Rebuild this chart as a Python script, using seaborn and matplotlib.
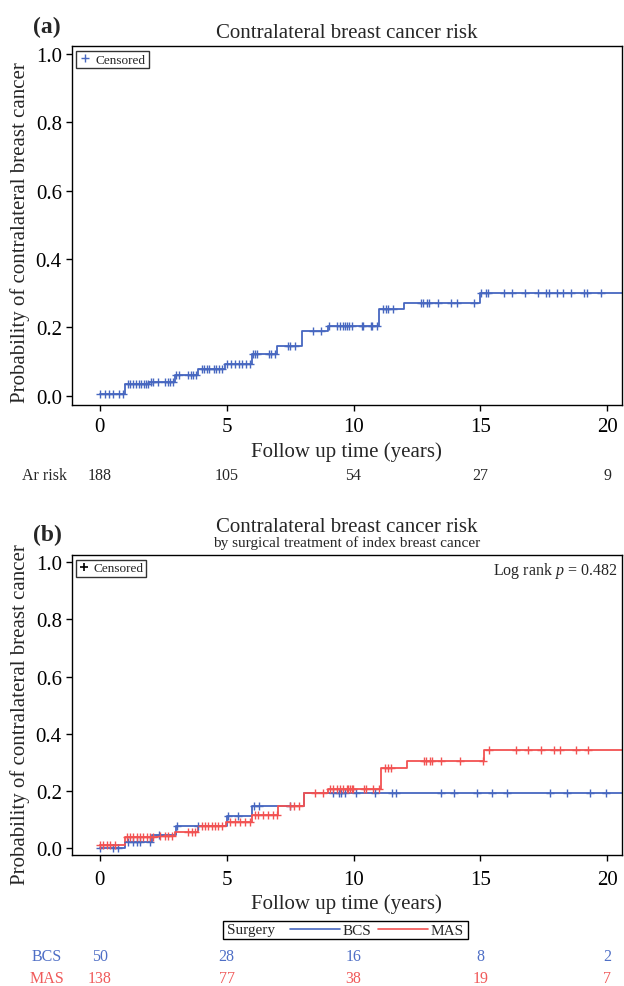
import numpy as np
import pandas as pd
import matplotlib
matplotlib.use("Agg")
import matplotlib.pyplot as plt
import matplotlib.transforms as mtransforms
from matplotlib.lines import Line2D
from matplotlib.patches import Rectangle
import seaborn as sns

# ---------------- data ----------------
# Panel (a): overall cumulative incidence (step times and levels)
A_TIMES = [0, 1.0, 1.95, 2.97, 3.89, 4.94, 5.99, 7.0, 7.98, 8.98, 11.0, 11.99, 14.98, 20.9]
A_RISK = [0.005, 0.033, 0.039, 0.061, 0.077, 0.094, 0.122, 0.145, 0.190, 0.203, 0.254, 0.272, 0.300, 0.300]
A_CENSORED = [0.03, 0.22, 0.35, 0.53, 0.75, 0.92, 1.1, 1.2, 1.33, 1.44, 1.53, 1.64, 1.73, 1.83, 1.92,
              2.03, 2.12, 2.31, 2.58, 2.68, 2.77, 2.88, 3.01, 3.13, 3.49, 3.58, 3.68, 3.79,
              4.02, 4.12, 4.21, 4.32, 4.5, 4.6, 4.71, 4.82, 5.02, 5.19, 5.35, 5.49, 5.62, 5.78, 5.91,
              6.04, 6.11, 6.2, 6.67, 6.76, 6.89, 7.41, 7.51, 7.71, 8.4, 8.73, 9.05, 9.34, 9.47, 9.59,
              9.66, 9.75, 9.83, 9.93, 10.32, 10.38, 10.68, 10.74, 10.94, 11.15, 11.27, 11.37, 11.57,
              12.66, 12.75, 12.91, 12.99, 13.32, 13.84, 14.06, 14.75, 15.01, 15.21, 15.31, 15.93,
              16.25, 16.75, 17.25, 17.57, 17.71, 18.0, 18.24, 18.57, 19.09, 19.18, 19.75]

# Panel (b): by surgery
BCS_TIMES = [0, 1.0, 2.05, 3.0, 5.0, 6.0, 8.05, 20.9]
BCS_RISK = [0.0, 0.022, 0.045, 0.076, 0.111, 0.146, 0.191, 0.191]
BCS_CENSORED = [0.02, 0.54, 0.74, 1.13, 1.33, 1.46, 1.59, 1.98, 2.35, 3.04, 3.89, 5.04, 5.46,
                6.08, 6.29, 7.5, 9.2, 9.44, 9.51, 9.66, 10.09, 10.85, 11.53, 11.67, 13.43,
                13.96, 14.88, 15.47, 16.03, 17.74, 18.4, 19.31, 19.93]
MAS_TIMES = [0, 1.0, 2.31, 2.97, 3.89, 4.99, 6.0, 7.03, 8.05, 9.0, 11.08, 12.1, 15.14, 20.9]
MAS_RISK = [0.009, 0.040, 0.043, 0.057, 0.078, 0.090, 0.116, 0.146, 0.191, 0.207, 0.280, 0.303, 0.343, 0.343]
MAS_CENSORED = [0.0, 0.15, 0.28, 0.41, 0.61, 1.07, 1.2, 1.33, 1.46, 1.59, 1.72, 1.85, 1.98, 2.11,
                2.38, 2.58, 2.71, 2.84, 3.49, 3.63, 3.76, 4.02, 4.15, 4.28, 4.41, 4.55, 4.68, 4.81,
                5.14, 5.33, 5.53, 5.73, 5.92, 6.12, 6.25, 6.45, 6.64, 6.84, 6.98, 7.5, 7.66, 7.84,
                8.48, 8.79, 9.07, 9.2, 9.34, 9.47, 9.6, 9.73, 9.8, 9.86, 9.93, 9.99, 10.41, 10.49,
                10.76, 11.02, 11.24, 11.37, 11.46, 12.78, 12.86, 13.01, 13.08, 13.43, 14.19,
                15.11, 15.35, 16.39, 16.88, 17.37, 17.91, 18.13, 18.75, 19.22]

X_TICKS = [0, 5, 10, 15, 20]
Y_TICKS = [0.0, 0.2, 0.4, 0.6, 0.8, 1.0]
A_AT_RISK = [188, 105, 54, 27, 9]
BCS_AT_RISK = [50, 28, 16, 8, 2]
MAS_AT_RISK = [138, 77, 38, 19, 7]

BLUE = "#4767C0"
RED = "#F25252"
BLUE_TXT = "#4F6FC6"
RED_TXT = "#F05A5A"

# ---------------- style ----------------
sns.set_theme(style="ticks")
plt.rcParams["font.family"] = ["Liberation Serif", "DejaVu Serif"]
plt.rcParams["mathtext.fontset"] = "custom"
plt.rcParams["mathtext.rm"] = "Liberation Serif"
plt.rcParams["mathtext.it"] = "Liberation Serif:italic"
plt.rcParams["axes.edgecolor"] = "black"
plt.rcParams["axes.linewidth"] = 1.0

W, H = 624, 987
fig = plt.figure(figsize=(W / 100, H / 100), dpi=100)

def fx(px):
    return px / W

def fy(py):
    return 1 - py / H

ax_a = fig.add_axes([fx(71.5), fy(405.9), fx(621.8 - 71.5), (405.9 - 47.3) / H])
ax_b = fig.add_axes([fx(71.5), fy(856), fx(621.8 - 71.5), (856 - 556) / H])


def km(ax, times, risk, cens, color):
    df = pd.DataFrame({"t": times, "p": risk})
    sns.lineplot(data=df, x="t", y="p", drawstyle="steps-post", color=color, lw=1.3,
                 ax=ax, estimator=None, sort=False, legend=False)
    t = np.asarray(times)
    r = np.asarray(risk)
    c = np.asarray(cens)
    cy = r[np.searchsorted(t, c, side="right") - 1]
    sns.scatterplot(x=c, y=cy, marker="+", s=36, color=color, linewidth=1.0, ax=ax,
                    legend=False, zorder=3)


def style_axes(ax, ylim, xpad):
    ax.set_xlim(-1.11, 20.57)
    ax.set_ylim(*ylim)
    ax.set_xticks(X_TICKS)
    ax.set_yticks(Y_TICKS)
    ax.set_yticklabels([f"{v:.1f}" for v in Y_TICKS])
    ax.tick_params(axis="both", direction="out", length=4.5, width=1.0, color="black",
                   labelsize=15, pad=2.5, labelcolor="black")
    ax.tick_params(axis="x", pad=xpad)
    for s in ax.spines.values():
        s.set_visible(True)
        s.set_color("black")
        s.set_linewidth(1.0)
    ax.set_xlabel("Follow up time (years)", fontsize=15, labelpad=3.2)
    ax.set_ylabel("Probability of contralateral breast cancer", fontsize=15)


# ---------------- panel (a) ----------------
km(ax_a, A_TIMES, A_RISK, A_CENSORED, BLUE)
style_axes(ax_a, (-0.027, 1.0225), 4.5)
ax_a.yaxis.set_label_coords(-0.0754, 0.484)
h = Line2D([], [], marker="+", ls="none", color=BLUE, markersize=6, mew=1.0)
leg = ax_a.legend([h], ["Censored"], loc="upper left", frameon=True, fancybox=False,
                  edgecolor="black", fontsize=9.5, borderpad=0.2, handletextpad=0.3,
                  handlelength=1.0, borderaxespad=0.35)
leg.get_frame().set_linewidth(1.0)

fig.text(fx(33), fy(32.7), "(a)", fontsize=17, fontweight="bold", ha="left", va="baseline")
fig.text(fx(346.6), fy(37.7), "Contralateral breast cancer risk", fontsize=15,
         ha="center", va="baseline")

trans_a = mtransforms.blended_transform_factory(ax_a.transData, fig.transFigure)
fig.text(fx(44), fy(476), "Ar risk", fontsize=11.5, ha="center", va="center")
for x, n in zip(X_TICKS, A_AT_RISK):
    ax_a.text(x, fy(476), str(n), transform=trans_a, ha="center", va="center",
              fontsize=11.5, clip_on=False)

# ---------------- panel (b) ----------------
km(ax_b, BCS_TIMES, BCS_RISK, BCS_CENSORED, BLUE)
km(ax_b, MAS_TIMES, MAS_RISK, MAS_CENSORED, RED)
style_axes(ax_b, (-0.0245, 1.0256), 6.0)
ax_b.yaxis.set_label_coords(-0.0754, 0.472)
hb = Line2D([], [], marker="+", ls="none", color="black", markersize=6, mew=1.2)
legb = ax_b.legend([hb], ["Censored"], loc="upper left", frameon=True, fancybox=False,
                   edgecolor="black", fontsize=9.5, borderpad=0.2, handletextpad=0.3,
                   handlelength=0.8, borderaxespad=0.35)
legb.get_frame().set_linewidth(1.0)
ax_b.text(0.992, 0.983, "Log rank $p$ = 0.482", transform=ax_b.transAxes, ha="right",
          va="top", fontsize=11.5)

fig.text(fx(33), fy(540.7), "(b)", fontsize=17, fontweight="bold", ha="left", va="baseline")
fig.text(fx(346.6), fy(532), "Contralateral breast cancer risk", fontsize=15,
         ha="center", va="baseline")
fig.text(fx(346.6), fy(546.5), "by surgical treatment of index breast cancer", fontsize=11,
         ha="center", va="baseline")

# group legend below panel (b)
fig.patches.append(Rectangle((fx(223), fy(940)), fx(468 - 223), (940 - 921.7) / H,
                             transform=fig.transFigure, fill=False, edgecolor="black",
                             linewidth=1.0))
fig.text(fx(227), fy(931), "Surgery", fontsize=11, ha="left", va="center")
lines = [Line2D([], [], color=BLUE, lw=1.2), Line2D([], [], color=RED, lw=1.2)]
fig.legend(lines, ["BCS", "MAS"], loc="center left", bbox_to_anchor=(fx(290), fy(931)),
           ncol=2, frameon=False, fontsize=11, handlelength=3.3, handletextpad=0.15,
           columnspacing=0.4, borderpad=0, borderaxespad=0)

trans_b = mtransforms.blended_transform_factory(ax_b.transData, fig.transFigure)
fig.text(fx(46.5), fy(956.7), "BCS", fontsize=11.5, ha="center", va="center", color=BLUE_TXT)
fig.text(fx(46.5), fy(979), "MAS", fontsize=11.5, ha="center", va="center", color=RED_TXT)
for x, n1, n2 in zip(X_TICKS, BCS_AT_RISK, MAS_AT_RISK):
    ax_b.text(x, fy(956.7), str(n1), transform=trans_b, ha="center", va="center",
              fontsize=11.5, color=BLUE_TXT, clip_on=False)
    ax_b.text(x, fy(979), str(n2), transform=trans_b, ha="center", va="center",
              fontsize=11.5, color=RED_TXT, clip_on=False)

fig.savefig("out.png", dpi=100)
